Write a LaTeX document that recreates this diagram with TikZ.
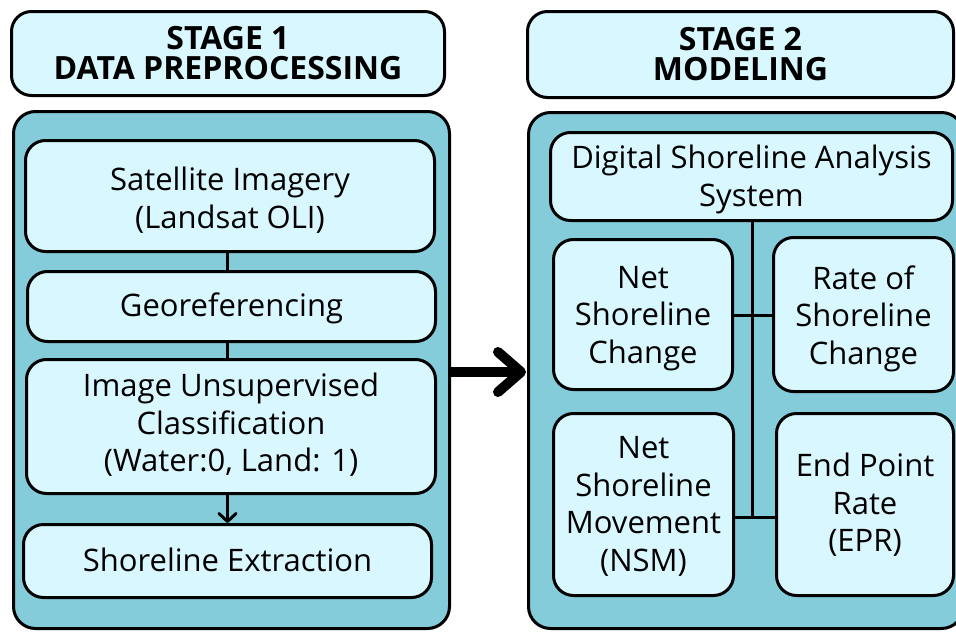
\documentclass[tikz,border=0pt]{standalone}
\usepackage{fontspec}
\setmainfont{Open Sans}
\usetikzlibrary{calc,arrows.meta}
\definecolor{boxfill}{HTML}{D9F7FE}
\definecolor{panelfill}{HTML}{85CCDB}

\begin{document}
\begin{tikzpicture}[x=1pt,y=-1pt,
  header/.style={draw, line width=3pt, rounded corners=20pt, fill=boxfill,
    align=center, inner sep=0pt, font=\fontsize{32}{30}\selectfont\bfseries},
  panel/.style={draw, line width=3pt, rounded corners=22pt, fill=panelfill, inner sep=0pt},
  stepbox/.style={draw, line width=3pt, rounded corners=20pt, fill=boxfill, inner sep=0pt},
  steptext/.style={align=center, inner sep=0pt, font=\fontsize{31}{37.5}\selectfont},
  link/.style={line width=3pt},
  bigarrow/.style={line width=10pt, line join=round, line cap=round}]
\useasboundingbox (0,0) rectangle (956,632);

% stage headers
\node[header, minimum width=433pt, minimum height=84pt] (h1) at (228,53.5) {STAGE 1\\DATA PREPROCESSING};
\node[header, minimum width=426pt, minimum height=86pt] (h2) at (740.5,54.5) {STAGE 2\\MODELING};

% stage panels
\node[panel, minimum width=436pt, minimum height=517pt] (p1) at (231.5,370) {};
\node[panel, minimum width=435pt, minimum height=516pt] (p2) at (746,370.5) {};

% stage 1 steps
\node[stepbox, minimum width=409pt, minimum height=111pt] (sat) at (230,196) {};
\node[stepbox, minimum width=408pt, minimum height=70pt] (geo) at (231.5,306.5) {};
\node[stepbox, minimum width=409pt, minimum height=134pt] (cls) at (231,426.5) {};
\node[stepbox, minimum width=408pt, minimum height=73pt] (ext) at (227.5,561) {};
\node[steptext] (satT) at ($(sat)+(0,4)$) {Satellite Imagery\\(Landsat OLI)};
\node[steptext] (geoT) at ($(geo)+(0,2)$) {Georeferencing};
\node[steptext] (clsT) at ($(cls)+(0,-1.5)$) {Image Unsupervised\\Classification\\(Water:0, Land: 1)};
\node[steptext] (extT) at ($(ext)+(0,-1)$) {Shoreline Extraction};

\coordinate (c1) at (227.5,0);
\draw[link] (sat.south -| c1) -- (geo.north -| c1);
\draw[link] (geo.south -| c1) -- (cls.north -| c1);
\draw[link, -{Straight Barb[length=8pt,width=17pt,round]}] (cls.south -| c1) -- (ext.north -| c1);

% stage 2 steps
\node[stepbox, minimum width=402pt, minimum height=88pt] (dsas) at (751.5,176.5) {};
\node[stepbox, minimum width=179pt, minimum height=150pt] (nsc) at (643,314.5) {};
\node[stepbox, minimum width=180pt, minimum height=154pt] (rsc) at (863.5,314.5) {};
\node[stepbox, minimum width=180pt, minimum height=182pt] (nsm) at (643.5,504.5) {};
\node[stepbox, minimum width=177pt, minimum height=182pt] (epr) at (865,504.5) {};
\node[steptext] (dsasT) at ($(dsas)+(0,3)$) {Digital Shoreline Analysis\\System};
\node[steptext] (nscT) at ($(nsc)+(0,4)$) {Net\\Shoreline\\Change};
\node[steptext] (rscT) at ($(rsc)+(0,4)$) {Rate of\\Shoreline\\Change};
\node[steptext] (nsmT) at ($(nsm)+(0,2)$) {Net\\Shoreline\\Movement\\(NSM)};
\node[steptext] (eprT) at ($(epr)+(0,0.5)$) {End Point\\Rate\\(EPR)};

\coordinate (j1) at (752.5,315);
\coordinate (j2) at (752.5,517);
\draw[link] (dsas.south -| j2) -- (j2);
\draw[link] (nsc.east |- j1) -- (rsc.west |- j1);
\draw[link] (nsm.east |- j2) -- (epr.west |- j2);

% arrow from stage 1 to stage 2
\coordinate (tip) at ($(p2.west)+(-6,1.5)$);
\draw[line width=10pt] (p1.east |- tip) -- (tip);
\draw[bigarrow] ($(tip)+(-23,-20)$) -- (tip) -- ($(tip)+(-23,20)$);
\end{tikzpicture}
\end{document}
